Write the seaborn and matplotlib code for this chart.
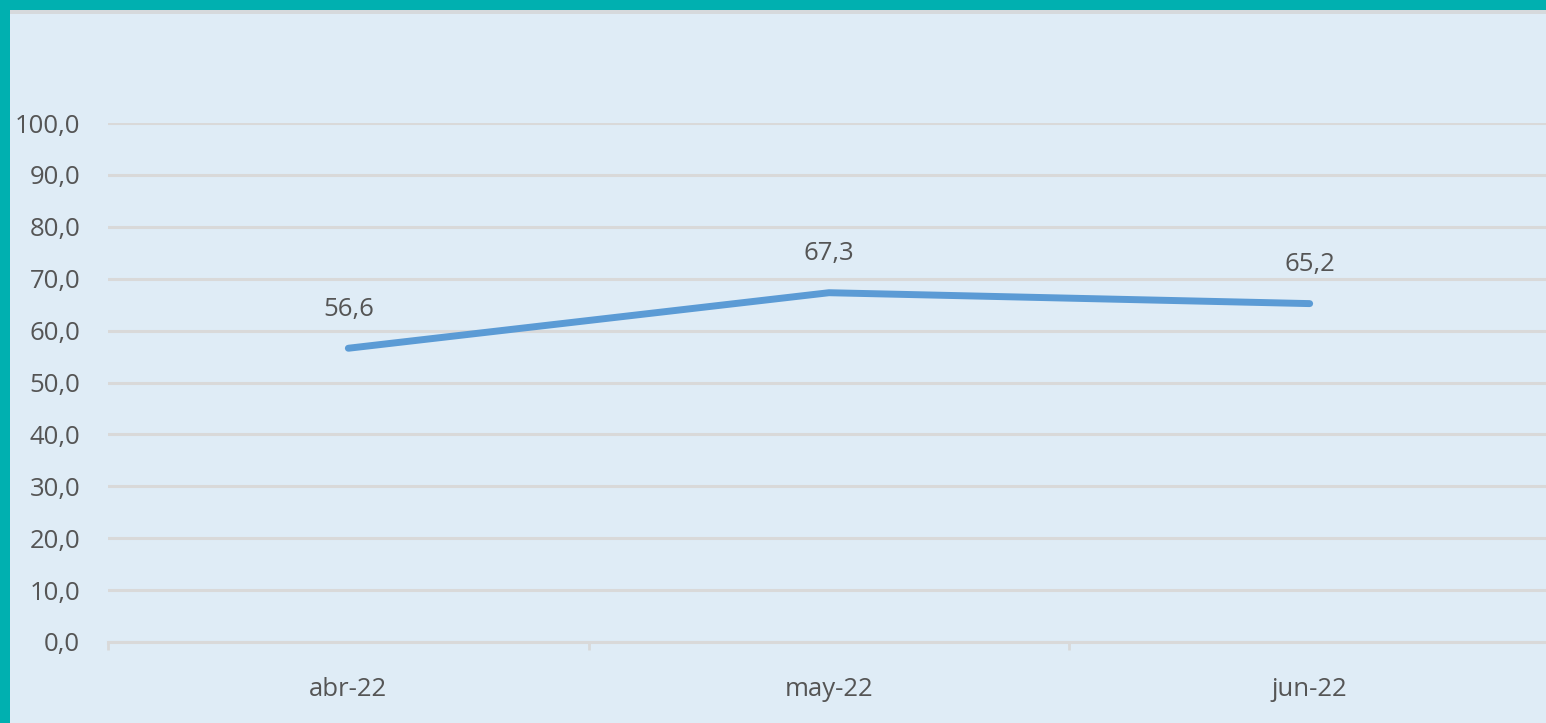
import seaborn as sns
import matplotlib.pyplot as plt
import pandas as pd
from matplotlib.patches import Rectangle

# chart data
months = ['abr-22', 'may-22', 'jun-22']
values = [56.6, 67.3, 65.2]
y_ticks = [0, 10, 20, 30, 40, 50, 60, 70, 80, 90, 100]

df = pd.DataFrame({'mes': months, 'valor': values})

bg = '#DFECF6'
txt = '#555555'
grid = '#D9D9D9'

sns.set_theme(style='white')
plt.rcParams['font.family'] = ['Open Sans', 'DejaVu Sans']

fig = plt.figure(figsize=(15.46, 7.23), dpi=100, facecolor=bg)
ax = fig.add_axes([108 / 1546, 1 - 642 / 723, 1442 / 1546, 519 / 723])
ax.set_facecolor(bg)

sns.lineplot(data=df, x='mes', y='valor', ax=ax, color='#5B9BD5',
             linewidth=5, solid_capstyle='round', sort=False)

for i, v in enumerate(values):
    ax.annotate(f'{v:.1f}'.replace('.', ','), (i, v), xytext=(0, 19),
                textcoords='offset points', ha='center', va='bottom',
                fontsize=18.5, color=txt)

ax.set_xlim(-0.5, 2.5)
ax.set_ylim(0, 100)
ax.set_yticks(y_ticks)
ax.set_yticklabels([f'{t:.1f}'.replace('.', ',') for t in y_ticks])
ax.set_xticks(range(len(months)))
ax.set_xticks([-0.5, 0.5, 1.5, 2.5], minor=True)
ax.set_xlabel('')
ax.set_ylabel('')

ax.grid(axis='y', color=grid, linewidth=2.2)
ax.set_axisbelow(True)
for s in ['top', 'right', 'left']:
    ax.spines[s].set_visible(False)
ax.spines['bottom'].set_color(grid)
ax.spines['bottom'].set_linewidth(2.2)

ax.tick_params(axis='y', length=0, pad=20, labelsize=18.5, labelcolor=txt)
ax.tick_params(axis='x', which='major', length=0, pad=25, labelsize=18.5, labelcolor=txt)
ax.tick_params(axis='x', which='minor', length=6, width=2, color=grid, bottom=True)

# teal frame at top and left, thin gray line under the top one
fig.patches.append(Rectangle((0, 1 - 10 / 723), 1, 10 / 723, transform=fig.transFigure,
                             facecolor='#00B0B0', edgecolor='none', zorder=5))
fig.patches.append(Rectangle((0, 0), 10 / 1546, 1, transform=fig.transFigure,
                             facecolor='#00B0B0', edgecolor='none', zorder=5))
fig.patches.append(Rectangle((10 / 1546, 1 - 14 / 723), 1, 4 / 723, transform=fig.transFigure,
                             facecolor='#D6D9DC', edgecolor='none', zorder=4))

fig.savefig('out.png', dpi=100, facecolor=bg)
